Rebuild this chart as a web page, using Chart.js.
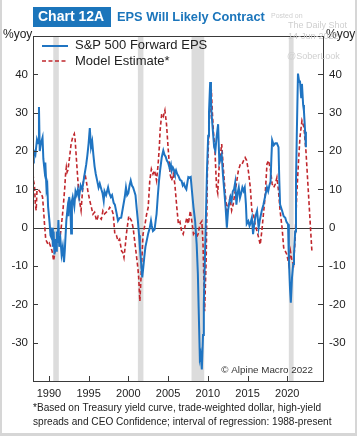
<!DOCTYPE html>
<html>
<head>
<meta charset="utf-8">
<script src="https://cdn.jsdelivr.net/npm/chart.js@4/dist/chart.umd.min.js"></script>
<style>
html,body{margin:0;padding:0;background:#fff;}
#wrap{position:relative;width:357px;height:436px;overflow:hidden;}
#wrap:after{content:"";position:absolute;left:0;top:0;right:0;bottom:0;border-left:2px solid #d6d6d6;border-right:2px solid #d6d6d6;border-bottom:3px solid #d6d6d6;pointer-events:none;}
canvas{display:block;}
</style>
</head>
<body>
<div id="wrap"><canvas id="c" width="357" height="436"></canvas></div>
<script>
// ---- data ----
const blueYears = [1988.0,1988.1,1988.3,1988.5,1988.65,1988.75,1988.85,1989.0,1989.2,1989.3,1989.45,1989.55,1989.7,1989.8,1989.9,1990.1,1990.2,1990.3,1990.4,1990.5,1990.6,1990.7,1990.8,1990.9,1991.0,1991.1,1991.2,1991.3,1991.45,1991.6,1991.75,1991.9,1992.0,1992.1,1992.2,1992.35,1992.45,1992.55,1992.7,1992.8,1992.9,1993.0,1993.2,1993.35,1993.5,1993.65,1993.8,1994.0,1994.2,1994.35,1994.5,1994.7,1994.85,1995.0,1995.15,1995.3,1995.45,1995.6,1995.75,1995.9,1996.1,1996.25,1996.4,1996.6,1996.75,1996.9,1997.0,1997.2,1997.45,1997.6,1997.8,1997.95,1998.15,1998.3,1998.5,1998.7,1998.9,1999.1,1999.3,1999.55,1999.7,1999.85,2000.0,2000.15,2000.3,2000.45,2000.6,2000.75,2000.9,2001.05,2001.2,2001.35,2001.45,2001.6,2001.75,2001.9,2002.0,2002.15,2002.3,2002.5,2002.7,2002.85,2002.95,2003.1,2003.3,2003.45,2003.55,2003.7,2003.85,2004.0,2004.2,2004.4,2004.55,2004.7,2004.85,2005.0,2005.2,2005.35,2005.45,2005.6,2005.75,2005.85,2006.0,2006.15,2006.3,2006.5,2006.7,2006.85,2007.0,2007.15,2007.3,2007.45,2007.55,2007.7,2007.85,2008.0,2008.2,2008.4,2008.6,2008.75,2008.85,2009.0,2009.1,2009.25,2009.4,2009.5,2009.65,2009.8,2009.9,2010.05,2010.15,2010.3,2010.4,2010.5,2010.65,2010.8,2010.95,2011.1,2011.3,2011.45,2011.6,2011.75,2011.9,2012.1,2012.25,2012.4,2012.55,2012.7,2012.85,2013.0,2013.15,2013.3,2013.45,2013.6,2013.75,2013.9,2014.05,2014.2,2014.35,2014.5,2014.65,2014.8,2014.9,2015.1,2015.25,2015.35,2015.55,2015.7,2015.85,2016.0,2016.2,2016.4,2016.55,2016.8,2017.0,2017.2,2017.45,2017.6,2017.75,2017.9,2018.0,2018.1,2018.3,2018.5,2018.7,2018.9,2019.0,2019.1,2019.35,2019.55,2019.75,2019.9,2020.1,2020.2,2020.35,2020.45,2020.6,2020.75,2020.85,2021.0,2021.1,2021.2,2021.35,2021.5,2021.6,2021.75,2021.85,2022.0,2022.1,2022.25,2022.35];
const blueValues = [17,20,19,23,22,31.5,20,22,23.5,18,15,17,10,11,5.5,1,-2,-2.5,0,-5,-1,-7,-3,-6,-1,-4,2,-5,-3,-7,-5,-9,-6,-2,2,5,3,8,6,-1.5,7,8,5.5,9.5,8.5,10,8,11,10,12,14,16.5,19,22,26,21,22.5,19,16,14,12,10.5,11.5,10,9,7,9.5,8.5,10.5,9,8,8.5,6.5,6,4,1.8,2.5,2.6,5,8,10.5,8.5,9,11,12.3,11,10.5,9.5,8.5,5,1.8,-2,-5,-9,-13,-10,-7.8,-5,-3.5,-1.5,0,1.8,0.5,-0.9,-0.5,2,3.5,8,12,15,18.3,20.1,19,18.5,17.5,17,15.5,16.5,14.8,15.7,15,14.2,15,14,13.5,12.5,12.2,11,11.5,10.5,10,12,13.2,13,13.2,9.7,5.3,1.8,-4.3,-12,-21,-34,-33,-37,-28,-20,-7,6,15,24,30,38,33,29,25,21,20,23.5,27,17,18,19,14,9,5,0,4.5,6.5,8,7,9.5,10,11.8,6,9,10.5,7.8,9,10.5,9.6,10.5,6,1,1.7,0.5,1,2.6,-1.7,1,3,4.4,0,2,4.5,6,8,10.5,9.5,11,12,18,22.8,21.5,22,22,21,12.3,6,4.4,3,2.6,1.5,0.9,-8,-16,-19.6,-13,-9.5,-7,-1,12,24,40.2,38,38.4,34,37.5,32,30.5,25,21];

const redYears = [1988.0,1988.1,1988.2,1988.3,1988.4,1988.5,1988.65,1988.8,1989.0,1989.2,1989.35,1989.45,1989.6,1989.7,1989.9,1990.05,1990.2,1990.3,1990.4,1990.6,1990.75,1990.85,1991.05,1991.2,1991.35,1991.55,1991.8,1992.0,1992.1,1992.2,1992.3,1992.4,1992.6,1992.8,1993.0,1993.2,1993.3,1993.45,1993.65,1993.85,1994.05,1994.2,1994.35,1994.55,1994.7,1994.9,1995.15,1995.35,1995.55,1995.75,1996.0,1996.2,1996.4,1996.6,1996.8,1997.0,1997.2,1997.45,1997.65,1997.9,1998.1,1998.3,1998.5,1998.7,1998.9,1999.15,1999.3,1999.45,1999.6,1999.75,2000.05,2000.2,2000.4,2000.6,2000.8,2001.0,2001.2,2001.3,2001.45,2001.55,2001.65,2001.85,2002.1,2002.3,2002.5,2002.7,2002.9,2003.1,2003.3,2003.55,2003.75,2003.9,2004.0,2004.2,2004.4,2004.6,2004.8,2005.0,2005.25,2005.45,2005.65,2005.85,2006.1,2006.3,2006.5,2006.7,2006.9,2007.1,2007.35,2007.55,2007.8,2008.0,2008.2,2008.4,2008.6,2008.8,2009.0,2009.25,2009.4,2009.6,2009.8,2009.95,2010.2,2010.45,2010.55,2010.7,2010.9,2011.1,2011.25,2011.45,2011.75,2011.95,2012.2,2012.4,2012.6,2012.8,2013.0,2013.2,2013.45,2013.65,2013.85,2014.1,2014.3,2014.5,2014.7,2014.9,2015.1,2015.35,2015.55,2015.75,2015.95,2016.2,2016.4,2016.6,2016.8,2017.0,2017.2,2017.45,2017.65,2017.9,2018.1,2018.3,2018.5,2018.7,2018.9,2019.1,2019.35,2019.55,2019.75,2019.95,2020.2,2020.4,2020.6,2020.8,2021.0,2021.2,2021.4,2021.6,2021.85,2022.1,2022.35,2022.55,2022.75,2022.95,2023.1];
const redValues = [14,12,10.5,6,4.5,9.6,10,9.6,9,8,4,0.9,-3,-3.5,-4.4,-4,-4.8,-5.5,-6.1,-8.6,-6.5,-5.2,-1.7,-2.5,-3.5,0,5.3,10.5,14,15.8,14.5,15,18.3,21.9,23.6,24.5,23,18.3,12.3,7,4.5,8.7,12.3,14,12.3,9.6,7,5.3,3.5,4,1.8,3,2.6,2.2,4.4,3.6,4,4.4,5.3,4.8,3.5,-1.7,-2,-3.5,-3,-6.1,-6.5,-7.8,-5,-1.7,3,2.5,1.8,0,-3.5,-7,-10.5,-13,-19.2,-15,-10.5,-1.7,0.9,3.5,5.3,12.3,15.3,14,14.9,12.3,16.6,21,25.4,29.7,29,30.6,27.1,21,14,12.3,14,11.4,5.3,0.9,1.5,-0.9,-1.7,0,2.6,1,4.4,1.5,-1.7,-1,-2.6,-1.5,0.9,1.7,-4.4,-21.8,-7.8,14.9,28,36,31,25.3,20.1,10.5,9,16.6,21.8,15.7,8.7,4.4,6.1,7.8,4.5,6.1,9.6,12.2,14.9,16.6,16.5,17.5,18.3,17.5,14.9,10.5,4.4,3.5,0.9,-1,-2.6,-4.4,-0.9,3.5,7.8,16.6,17.5,14.9,11.4,10.5,11.4,13.1,9.6,4.4,0,-5.2,-6.1,-7,-9.6,-6.1,-8.7,-9.6,-2.6,8.7,16.6,23.6,27.9,26.2,20.1,13.1,6.1,-0.9,-6.1];

const recessionStarts = [1990.55, 2001.2, 2007.95, 2020.2];
const recessionEnds   = [1991.25, 2001.9, 2009.55, 2020.8];

const xTickValues = [1990, 1995, 2000, 2005, 2010, 2015, 2020];
const yTickValues = [-30, -20, -10, 0, 10, 20, 30, 40];

const seriesNames = ['S&P 500 Forward EPS', 'Model Estimate*'];
const titleTag = 'Chart 12A';
const titleText = 'EPS Will Likely Contract';
const unitLabel = '%yoy';
const creditText = '\u00A9 Alpine Macro 2022';
const footnoteLines = ['*Based on Treasury yield curve, trade-weighted dollar, high-yield',
                       'spreads and CEO Confidence; interval of regression: 1988-present'];
const watermarkLines = ['Posted on', 'The Daily Shot', '14-Jun-2022', '@SoberLook'];

// ---- styles ----
const BLUE = '#1f74c2';
const RED = '#c0272d';
const TITLE_BLUE = '#1b75bb';
const AXIS = '#3a3a3a';
const FONT = '"Liberation Sans", Arial, Helvetica, sans-serif';

const bluePts = blueYears.map((x, i) => ({x, y: blueValues[i]}));
const redPts = redYears.map((x, i) => ({x, y: redValues[i]}));

const deco = {
  id: 'deco',
  beforeDatasetsDraw(chart) {
    const {ctx, chartArea: a, scales: {x, y}} = chart;
    ctx.save();
    ctx.fillStyle = '#dcdcdc';
    for (let i = 0; i < recessionStarts.length; i++) {
      const x0 = x.getPixelForValue(recessionStarts[i]);
      const x1 = x.getPixelForValue(recessionEnds[i]);
      ctx.fillRect(x0, a.top, x1 - x0, a.bottom - a.top);
    }
    const y0 = Math.round(y.getPixelForValue(0)) + 0.5;
    ctx.strokeStyle = AXIS;
    ctx.lineWidth = 1;
    ctx.beginPath(); ctx.moveTo(a.left, y0); ctx.lineTo(a.right, y0); ctx.stroke();
    ctx.restore();
  },
  afterDraw(chart) {
    const {ctx, chartArea: a, scales: {x, y}} = chart;
    ctx.save();
    // frame
    ctx.strokeStyle = AXIS;
    ctx.lineWidth = 1;
    ctx.strokeRect(Math.round(a.left) + 0.5, Math.round(a.top) + 0.5, Math.round(a.right - a.left), Math.round(a.bottom - a.top));
    // inward tick marks
    ctx.beginPath();
    yTickValues.forEach(v => {
      const py = Math.round(y.getPixelForValue(v)) + 0.5;
      ctx.moveTo(a.left, py); ctx.lineTo(a.left + 5, py);
      ctx.moveTo(a.right - 5, py); ctx.lineTo(a.right, py);
    });
    xTickValues.forEach(v => {
      const px = Math.round(x.getPixelForValue(v)) + 0.5;
      ctx.moveTo(px, a.bottom); ctx.lineTo(px, a.bottom - 5);
    });
    ctx.stroke();

    // legend
    ctx.lineWidth = 2;
    ctx.strokeStyle = BLUE;
    ctx.beginPath(); ctx.moveTo(42, 46); ctx.lineTo(68, 46); ctx.stroke();
    ctx.strokeStyle = RED; ctx.lineWidth = 1.6; ctx.setLineDash([4, 2.5]);
    ctx.beginPath(); ctx.moveTo(42, 61); ctx.lineTo(68, 61); ctx.stroke();
    ctx.setLineDash([]);
    ctx.fillStyle = '#222';
    ctx.font = '13px ' + FONT;
    ctx.textBaseline = 'middle';
    ctx.textAlign = 'left';
    ctx.fillText(seriesNames[0], 75, 45.5);
    ctx.fillText(seriesNames[1], 75, 61);

    // credit
    ctx.font = '9.8px ' + FONT;
    ctx.textAlign = 'right';
    ctx.fillStyle = '#333';
    ctx.fillText(creditText, 313, 370);

    // unit labels
    ctx.font = '12px ' + FONT;
    ctx.textAlign = 'left';
    ctx.fillStyle = '#222';
    ctx.fillText(unitLabel, 3, 35);
    ctx.fillText(unitLabel, 326, 35);

    // title
    ctx.fillStyle = TITLE_BLUE;
    ctx.fillRect(33, 7, 78, 20);
    ctx.fillStyle = '#fff';
    ctx.font = 'bold 14px ' + FONT;
    ctx.textAlign = 'left';
    ctx.fillText(titleTag, 38, 17.5);
    ctx.fillStyle = TITLE_BLUE;
    ctx.font = 'bold 12.8px ' + FONT;
    ctx.fillText(titleText, 117, 17.5);

    // watermark
    ctx.fillStyle = '#cfcfcf';
    ctx.font = '7px ' + FONT;
    ctx.fillText(watermarkLines[0], 271, 16);
    ctx.font = '9px ' + FONT;
    ctx.fillText(watermarkLines[1], 288, 26);
    ctx.fillText(watermarkLines[2], 288, 37);
    ctx.fillText(watermarkLines[3], 287, 57);

    // footnote
    ctx.fillStyle = '#222';
    ctx.font = '10.1px ' + FONT;
    ctx.fillText(footnoteLines[0], 33, 408);
    ctx.fillText(footnoteLines[1], 33, 422);
    ctx.restore();
  }
};

const yAxisCommon = {
  type: 'linear', min: -40, max: 50,
  grid: {display: false, drawTicks: false},
  border: {display: false},
  ticks: {font: {family: FONT, size: 11.5}, color: '#222'},
  afterBuildTicks: s => { s.ticks = yTickValues.map(v => ({value: v})); }
};

new Chart(document.getElementById('c'), {
  type: 'line',
  data: {
    datasets: [
      {label: seriesNames[0], data: bluePts, borderColor: BLUE, borderWidth: 2, pointRadius: 0, tension: 0, fill: false, order: 1},
      {label: seriesNames[1], data: redPts, borderColor: RED, borderWidth: 1.6, borderDash: [4, 2.5], pointRadius: 0, tension: 0, fill: false, order: 2}
    ]
  },
  options: {
    responsive: false,
    animation: false,
    devicePixelRatio: 1,
    layout: {padding: {top: 36, left: 0, right: 0, bottom: 0}},
    plugins: {legend: {display: false}, tooltip: {enabled: false}, title: {display: false}},
    scales: {
      x: {
        type: 'linear', min: 1988, max: 2024.5,
        grid: {display: false, drawTicks: false},
        border: {display: false},
        ticks: {font: {family: FONT, size: 11}, color: '#222', padding: 6, callback: v => String(v)},
        afterBuildTicks: s => { s.ticks = xTickValues.map(v => ({value: v})); },
        afterFit: s => { s.height = 55; }
      },
      y: Object.assign({}, yAxisCommon, {position: 'left', ticks: Object.assign({}, yAxisCommon.ticks, {padding: 5}), afterFit: s => { s.width = 33; }}),
      y2: Object.assign({}, yAxisCommon, {position: 'right', ticks: Object.assign({}, yAxisCommon.ticks, {padding: 6}), afterFit: s => { s.width = 34; }})
    }
  },
  plugins: [deco]
});
</script>
</body>
</html>
